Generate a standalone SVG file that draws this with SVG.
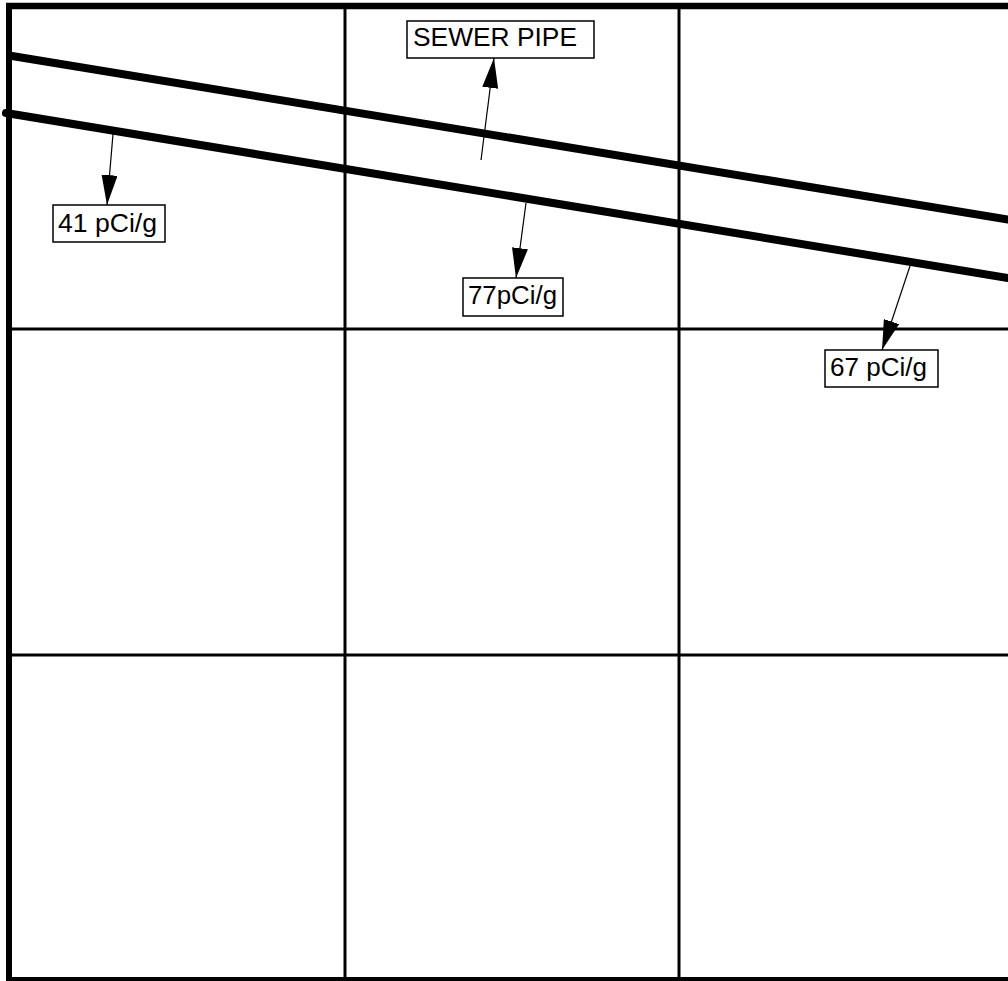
<svg xmlns="http://www.w3.org/2000/svg" width="1008" height="981" viewBox="0 0 1008 981">
  <style>
    .grid { stroke: #000; stroke-width: 3; fill: none; }
    .border { stroke: #000; fill: none; }
    .pipe { stroke: #000; stroke-width: 8; fill: none; stroke-linecap: round; }
    .leader { stroke: #000; stroke-width: 1.2; fill: none; marker-end: url(#arrow); }
    .box { fill: #fff; stroke: #000; stroke-width: 1.5; }
    .lbl { font-family: "Liberation Sans", Arial, sans-serif; font-size: 25px; fill: #000; }
  </style>
  <defs>
    <marker id="arrow" markerUnits="userSpaceOnUse" markerWidth="30" markerHeight="16" refX="30" refY="8" orient="auto">
      <path d="M0,0 L30,8 L0,16 Z" fill="#000"/>
    </marker>
  </defs>
  <rect width="1008" height="981" fill="#fff"/>
  <g id="grid">
    <line class="grid" x1="345" y1="6" x2="345" y2="979"/>
    <line class="grid" x1="679" y1="6" x2="679" y2="979"/>
    <line class="grid" x1="9" y1="329" x2="1008" y2="329"/>
    <line class="grid" x1="9" y1="655" x2="1008" y2="655"/>
    <line class="border" stroke-width="6.5" x1="6" y1="6" x2="1008" y2="6"/>
    <line class="border" stroke-width="6" x1="9" y1="3" x2="9" y2="981"/>
    <line class="border" stroke-width="4" x1="6" y1="979" x2="1008" y2="979"/>
  </g>
  <g id="pipes">
    <line class="pipe" stroke-linecap="butt" x1="12" y1="56" x2="1008" y2="219.5"/>
    <line class="pipe" x1="6" y1="113" x2="1008" y2="278"/>
  </g>
  <g id="connectors">
    <line class="leader" x1="481" y1="160" x2="494" y2="58"/>
    <line class="leader" x1="113" y1="134" x2="107" y2="205"/>
    <line class="leader" x1="526" y1="203" x2="516" y2="278"/>
    <line class="leader" x1="910" y1="266" x2="882" y2="350"/>
  </g>
  <g id="sewer-pipe">
    <rect class="box" x="407" y="21" width="187" height="37"/>
    <text class="lbl" x="413" y="46" textLength="164" lengthAdjust="spacingAndGlyphs">SEWER PIPE</text>
  </g>
  <g id="label-41">
    <rect class="box" x="53" y="205" width="112" height="37"/>
    <text class="lbl" x="58" y="232" textLength="99" lengthAdjust="spacingAndGlyphs">41 pCi/g</text>
  </g>
  <g id="label-77">
    <rect class="box" x="463" y="278" width="100" height="38"/>
    <text class="lbl" x="468" y="304" textLength="89" lengthAdjust="spacingAndGlyphs">77pCi/g</text>
  </g>
  <g id="label-67">
    <rect class="box" x="825" y="350" width="113" height="37"/>
    <text class="lbl" x="830" y="376" textLength="97" lengthAdjust="spacingAndGlyphs">67 pCi/g</text>
  </g>
</svg>
